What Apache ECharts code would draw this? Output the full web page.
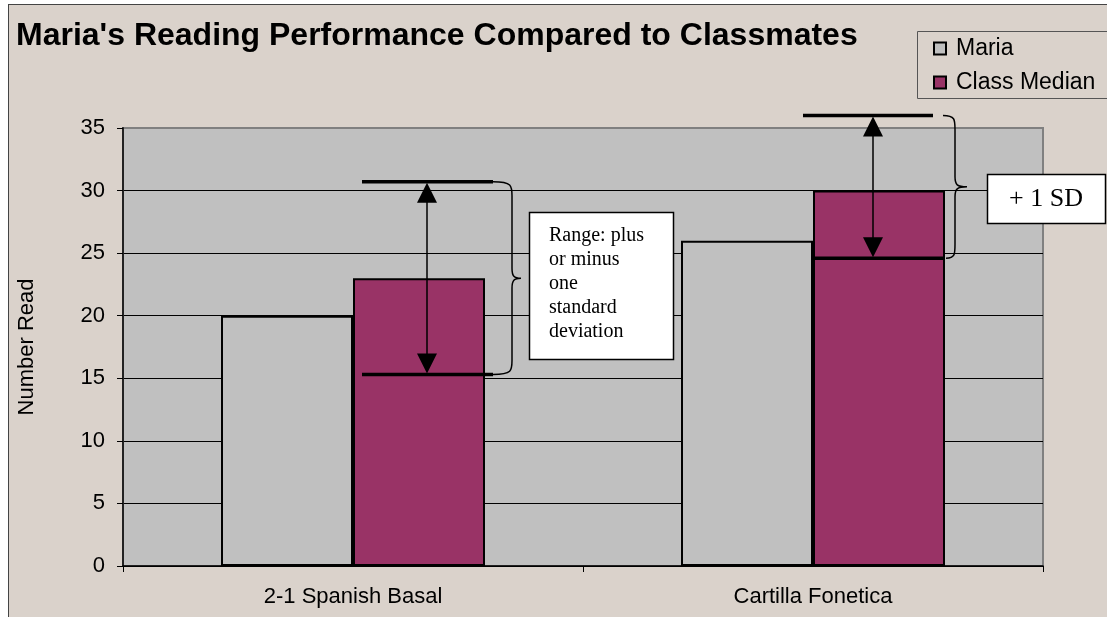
<!DOCTYPE html>
<html><head><meta charset="utf-8">
<script src="https://cdn.jsdelivr.net/npm/echarts@6/dist/echarts.min.js"></script>
<style>
html,body{margin:0;padding:0;background:#fff;overflow:hidden;}
#frame{position:absolute;left:8px;top:4px;width:1300px;height:800px;background:#DAD2CB;border:1px solid #444;}
#c{position:absolute;left:0;top:0;width:1107px;height:617px;}
</style>
</head><body><div id="frame"></div><div id="c"></div>
<script>
// ---- data ----
const categories = ['2-1 Spanish Basal', 'Cartilla Fonetica'];
const mariaValues = [20, 26];
const classMedianValues = [23, 30];
const sdLow = [15.3, 24.6];
const sdHigh = [30.7, 36];
const yMin = 0, yMax = 35, yStep = 5;
const seriesNames = ['Maria', 'Class Median'];
const boxText1 = 'Range: plus\nor minus\none\nstandard\ndeviation';
const boxText2 = '+ 1 SD';

// ---- annotation styling (pixel offsets relative to class-median bar's left edge) ----
const sdLayout = [
  {top: [9, 140], bot: [9, 140], arrow: 74, braceTop: 140, braceBot: 140, braceV: 159, braceTip: 168},
  {top: [-10, 120], bot: [0, 131], arrow: 60, braceTop: 130, braceBot: 133, braceV: 142, braceTip: 154}
];

const chart = echarts.init(document.getElementById('c'), null, {renderer: 'canvas'});
const sans = 'Arial, "Liberation Sans", sans-serif';
const serif = '"Times New Roman", "Liberation Serif", serif';

function renderSD(params, api) {
  const i = api.value(0);
  const lo = api.coord([i, api.value(1)]);
  const hi = api.coord([i, api.value(2)]);
  const cx = lo[0];
  const yHi = hi[1], yLo = lo[1];
  const s = sdLayout[i];
  const ax = cx + s.arrow;
  const x0 = cx + s.braceTop, x0b = cx + s.braceBot, xv = cx + s.braceV, xt = cx + s.braceTip;
  const yM = (yHi + yLo) / 2;
  const r = 14;
  const path = 'M' + x0 + ' ' + yHi +
    ' C' + xv + ' ' + yHi + ' ' + xv + ' ' + (yHi + 4) + ' ' + xv + ' ' + (yHi + r) +
    ' L' + xv + ' ' + (yM - 10) +
    ' C' + xv + ' ' + (yM - 2) + ' ' + (xv + 2) + ' ' + yM + ' ' + xt + ' ' + yM +
    ' C' + (xv + 2) + ' ' + yM + ' ' + xv + ' ' + (yM + 2) + ' ' + xv + ' ' + (yM + 10) +
    ' L' + xv + ' ' + (yLo - r) +
    ' C' + xv + ' ' + (yLo - 4) + ' ' + xv + ' ' + yLo + ' ' + x0b + ' ' + yLo;
  return {
    type: 'group',
    children: [
      {type: 'line', shape: {x1: ax, y1: yHi + 18, x2: ax, y2: yLo - 18}, style: {stroke: '#000', lineWidth: 1.5}},
      {type: 'polygon', shape: {points: [[ax, yHi + 1], [ax - 10, yHi + 21], [ax + 10, yHi + 21]]}, style: {fill: '#000'}},
      {type: 'polygon', shape: {points: [[ax, yLo - 1], [ax - 10, yLo - 21], [ax + 10, yLo - 21]]}, style: {fill: '#000'}},
      {type: 'line', shape: {x1: cx + s.top[0], y1: yHi, x2: cx + s.top[1], y2: yHi}, style: {stroke: '#000', lineWidth: 3.5}},
      {type: 'line', shape: {x1: cx + s.bot[0], y1: yLo, x2: cx + s.bot[1], y2: yLo}, style: {stroke: '#000', lineWidth: 3.5}},
      {type: 'path', shape: {pathData: path}, style: {fill: null, stroke: '#000', lineWidth: 1.5}}
    ]
  };
}

const option = {
  animation: false,
  backgroundColor: 'transparent',
  title: {
    text: "Maria's Reading Performance Compared to Classmates",
    left: 16, top: 20, padding: 0,
    textStyle: {fontFamily: sans, fontSize: 32, fontWeight: 'bold', color: '#000'}
  },
  legend: {
    data: seriesNames,
    orient: 'vertical',
    left: 933, top: 37, padding: 0,
    itemWidth: 12, itemHeight: 12, itemGap: 11,
    icon: 'rect',
    textStyle: {fontFamily: sans, fontSize: 23, color: '#000', lineHeight: 22, padding: [0, 0, 0, 5]}
  },
  grid: {
    left: 123, right: 64, top: 128, bottom: 51,
    show: true, backgroundColor: '#C0C0C0', borderColor: '#808080', borderWidth: 2
  },
  xAxis: {
    type: 'category',
    data: categories,
    axisLine: {lineStyle: {color: '#000', width: 1.5}},
    axisTick: {show: true, length: 6, interval: 0, lineStyle: {color: '#000'}},
    axisLabel: {fontFamily: sans, fontSize: 22, color: '#000', margin: 20, interval: 0},
    splitLine: {show: false}
  },
  yAxis: {
    type: 'value',
    min: yMin, max: yMax, interval: yStep,
    name: 'Number Read',
    nameLocation: 'middle',
    nameGap: 85,
    nameRotate: 90,
    nameTextStyle: {fontFamily: sans, fontSize: 22, color: '#000'},
    axisLine: {show: true, lineStyle: {color: '#222', width: 2}},
    axisTick: {show: true, length: 6, lineStyle: {color: '#000'}},
    axisLabel: {fontFamily: sans, fontSize: 22, color: '#000', margin: 18},
    splitLine: {show: true, showMaxLine: false, lineStyle: {color: '#000', width: 1}}
  },
  series: [
    {
      name: seriesNames[0], type: 'bar', data: mariaValues,
      barWidth: 132, barGap: '0%',
      itemStyle: {color: '#C0C0C0', borderColor: '#000', borderWidth: 2}
    },
    {
      name: seriesNames[1], type: 'bar', data: classMedianValues,
      barWidth: 132, barGap: '0%',
      itemStyle: {color: '#993366', borderColor: '#000', borderWidth: 2}
    },
    {
      name: 'SD', type: 'custom',
      data: categories.map((c, i) => [i, sdLow[i], sdHigh[i]]),
      encode: {x: 0, y: [1, 2]},
      renderItem: renderSD,
      clip: false,
      z: 10,
      silent: true
    }
  ],
  graphic: [
    {type: 'rect', z: 100, shape: {x: 917.5, y: 31.5, width: 200, height: 67}, style: {fill: null, stroke: '#555', lineWidth: 1}},
    {type: 'rect', z: 100, shape: {x: 529.5, y: 212.5, width: 144, height: 147}, style: {fill: '#fff', stroke: '#000', lineWidth: 1.5}},
    {type: 'text', z: 101, left: 549, top: 224, style: {text: boxText1, font: '20px ' + serif, fill: '#000', lineHeight: 24}},
    {type: 'rect', z: 100, shape: {x: 987.5, y: 174.5, width: 118, height: 49}, style: {fill: '#fff', stroke: '#000', lineWidth: 1.5}},
    {type: 'text', z: 101, x: 1046, y: 199, style: {text: boxText2, font: '26px ' + serif, fill: '#000', align: 'center', verticalAlign: 'middle'}}
  ]
};
chart.setOption(option);
</script>
</body></html>
